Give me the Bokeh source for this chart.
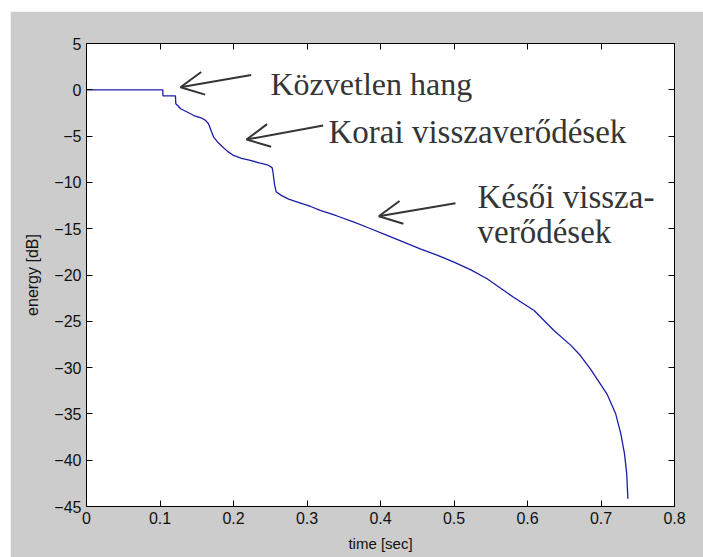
from bokeh.plotting import figure
from bokeh.models import (LinearAxis, Arrow, OpenHead, Range1d, ColumnDataSource,
                          FixedTicker)
from bokeh.core.properties import value
from bokeh.embed import file_html
from bokeh.resources import INLINE

# Energy decay curve (Schroeder integral) of a room impulse response
time_sec = [0.0, 0.1038, 0.1040, 0.121, 0.1215, 0.124, 0.128, 0.137, 0.146, 0.157,
            0.162, 0.166, 0.170, 0.173, 0.179, 0.185, 0.192, 0.200, 0.211, 0.223,
            0.235, 0.246, 0.2525, 0.2535, 0.256, 0.258, 0.265, 0.275, 0.290, 0.305,
            0.318, 0.340, 0.364, 0.385, 0.409, 0.430, 0.454, 0.477, 0.500, 0.523,
            0.545, 0.563, 0.581, 0.609, 0.636, 0.659, 0.672, 0.686, 0.699, 0.708,
            0.720, 0.727, 0.732, 0.735, 0.7366]
energy_db = [0.0, 0.0, -0.65, -0.65, -1.5, -1.7, -2.05, -2.4, -2.78, -3.07,
             -3.3, -3.67, -4.5, -5.12, -5.7, -6.16, -6.65, -7.09, -7.4, -7.63,
             -7.9, -8.10, -8.4, -8.8, -10.3, -11.0, -11.4, -11.8, -12.2, -12.6,
             -13.03, -13.6, -14.3, -14.95, -15.73, -16.4, -17.17, -17.85, -18.61, -19.45,
             -20.41, -21.4, -22.4, -23.83, -25.99, -27.6, -28.7, -30.2, -31.75, -32.83,
             -34.99, -37.15, -39.31, -41.47, -44.17]

x_ticks = [0, 0.1, 0.2, 0.3, 0.4, 0.5, 0.6, 0.7, 0.8]
y_ticks = [-45, -40, -35, -30, -25, -20, -15, -10, -5, 0, 5]

# Annotation texts (Hungarian) and their anchor points in data units
note_text = ["Közvetlen hang", "Korai visszaverődések", "Késői vissza-", "verődések"]
note_x = [0.2503, 0.3293, 0.532, 0.532]
note_y = [0.68, -4.61, -11.63, -15.41]
note_size = ["32px", "33px", "33px", "33px"]

# Arrows pointing from each annotation to the curve
arrow_x0 = [0.2241, 0.3220, 0.5020]
arrow_y0 = [1.60, -3.86, -12.25]
arrow_x1 = [0.1279, 0.2177, 0.3977]
arrow_y1 = [0.28, -5.37, -13.65]

sans = "Liberation Sans"
serif = "Liberation Serif"
gray_bg = "#CCCCCC"
ink = "#353535"

p = figure(frame_width=588, frame_height=463,
           x_range=Range1d(0, 0.8), y_range=Range1d(-45, 5),
           output_backend="svg", toolbar_location=None,
           x_axis_location=None, y_axis_location=None,
           min_border_left=76, min_border_top=32, min_border_right=29, min_border_bottom=51,
           background_fill_color="white", border_fill_color=gray_bg,
           outline_line_color=None, margin=(11, 0, 0, 10))
p.grid.visible = False


def make_axis(labels=True):
    ax = LinearAxis()
    ax.axis_line_color = "black"
    ax.axis_line_width = 1
    ax.major_tick_in = 6
    ax.major_tick_out = 0
    ax.major_tick_line_color = "black"
    ax.minor_tick_line_color = None
    ax.major_label_text_font = sans
    ax.major_label_text_font_size = "16px"
    if labels:
        ax.major_label_text_color = "#111111"
        ax.major_label_standoff = 5
    else:
        # box-side axis: ticks only, tick labels not drawn
        ax.major_label_text_color = None
        ax.major_label_standoff = 0
    ax.axis_label_text_font = sans
    ax.axis_label_text_font_style = "normal"
    ax.axis_label_text_font_size = "15px"
    ax.axis_label_text_color = "#111111"
    return ax


bottom = make_axis()
bottom.ticker = FixedTicker(ticks=x_ticks)
bottom.axis_label = "time [sec]"
bottom.axis_label_standoff = 8
p.add_layout(bottom, "below")

top = make_axis(False)
top.ticker = FixedTicker(ticks=x_ticks)
p.add_layout(top, "above")

left = make_axis()
left.ticker = FixedTicker(ticks=y_ticks)
left.axis_label = "energy [dB]"
left.axis_label_text_font_size = "16px"
left.axis_label_standoff = 10
p.add_layout(left, "left")

right = make_axis(False)
right.ticker = FixedTicker(ticks=y_ticks)
p.add_layout(right, "right")

# Decay curve
p.line(time_sec, energy_db, line_color="#1c1ca8", line_width=1.3)

# Arrows
arrows = ColumnDataSource(dict(x0=arrow_x0, y0=arrow_y0, x1=arrow_x1, y1=arrow_y1))
p.add_layout(Arrow(x_start="x0", y_start="y0", x_end="x1", y_end="y1", source=arrows,
                   line_color=ink, line_width=2,
                   end=OpenHead(size=23, line_color=ink, line_width=2)))

# Annotation labels
notes = ColumnDataSource(dict(x=note_x, y=note_y, t=note_text, s=note_size))
p.text(x="x", y="y", text="t", source=notes, text_font=value(serif),
       text_font_size="s", text_color=ink, text_baseline="alphabetic",
       text_align="left")

open("out.html", "w").write(file_html(p, INLINE))
